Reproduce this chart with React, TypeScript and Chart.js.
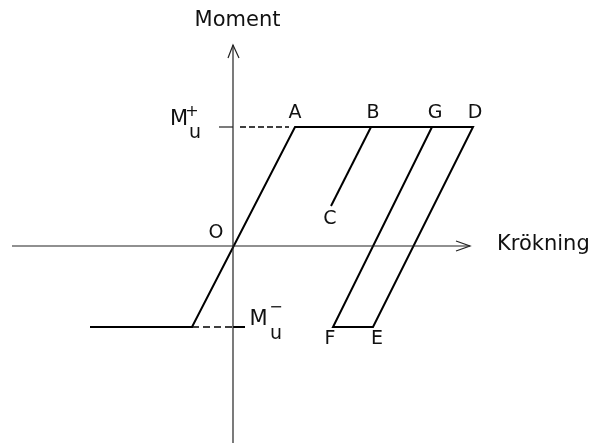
import React, { useEffect, useRef } from "react";
import { Chart, registerables } from "chart.js";

Chart.register(...registerables);

// Abstract units: curvature (x) and moment (y)
const MU_POS = 11.9;
const MU_NEG = -8.1;

// Moment–curvature path: start -> yield (neg) -> A -> D -> E -> F -> G
const mainPathX = [-14.3, -4.1, 6.2, 24.0, 14.0, 10.0, 19.9];
const mainPathY = [MU_NEG, MU_NEG, MU_POS, MU_POS, MU_NEG, MU_NEG, MU_POS];

// Unloading branch B -> C
const branchX = [13.8, 9.8];
const branchY = [MU_POS, 4.0];

// Axes
const xAxisX = [-22.1, 23.7];
const xAxisY = [0, 0];
const yAxisX = [0, 0];
const yAxisY = [-20.5, 20.1];
const xArrowX = [22.3, 23.7, 22.3];
const xArrowY = [0.5, 0, -0.5];
const yArrowX = [-0.5, 0, 0.6];
const yArrowY = [18.8, 20.1, 18.8];

// Reference dashes and ticks for M_u levels
const posDashX = [0.7, 5.6];
const posDashY = [MU_POS, MU_POS];
const posTickX = [-1.4, 0];
const posTickY = [MU_POS, MU_POS];
const negDashX = [-4.1, 0];
const negDashY = [MU_NEG, MU_NEG];
const negTickX = [0, 1.2];
const negTickY = [MU_NEG, MU_NEG];

// Point labels
const pointLabels = ["A", "B", "G", "D", "C", "O", "F", "E"];
const pointLabelX = [6.2, 14.0, 20.2, 24.2, 9.7, -1.7, 9.7, 14.4];
const pointLabelY = [13.3, 13.3, 13.3, 13.3, 2.7, 1.3, -9.3, -9.3];

const axisTitles = ["Moment", "Krökning"];
const axisTitleX = [0.45, 26.4];
const axisTitleY = [22.5, 0.1];

const toPts = (xs: number[], ys: number[]) => xs.map((x, i) => ({ x, y: ys[i] }));

const FONT = "'DejaVu Sans', sans-serif";

const labelPlugin = {
  id: "labels",
  afterDatasetsDraw(chart: any) {
    const { ctx, scales } = chart;
    const xs = scales.x;
    const ys = scales.y;
    ctx.save();
    ctx.fillStyle = "#111";
    ctx.textBaseline = "middle";
    // point letters
    ctx.font = `19px ${FONT}`;
    ctx.textAlign = "center";
    pointLabels.forEach((t, i) => {
      ctx.fillText(t, xs.getPixelForValue(pointLabelX[i]), ys.getPixelForValue(pointLabelY[i]));
    });
    // axis titles
    ctx.font = `21px ${FONT}`;
    ctx.textAlign = "center";
    ctx.fillText(axisTitles[0], xs.getPixelForValue(axisTitleX[0]), ys.getPixelForValue(axisTitleY[0]));
    ctx.textAlign = "left";
    ctx.fillText(axisTitles[1], xs.getPixelForValue(axisTitleX[1]), ys.getPixelForValue(axisTitleY[1]));
    // M_u^+ and M_u^-
    const drawMu = (mx: number, my: number, sign: string, sx: number, sy: number, ux: number, uy: number) => {
      ctx.textAlign = "center";
      ctx.font = `21px ${FONT}`;
      ctx.fillText("M", xs.getPixelForValue(mx), ys.getPixelForValue(my));
      ctx.font = `16px ${FONT}`;
      ctx.fillText(sign, xs.getPixelForValue(sx), ys.getPixelForValue(sy));
      ctx.font = `19px ${FONT}`;
      ctx.fillText("u", xs.getPixelForValue(ux), ys.getPixelForValue(uy));
    };
    drawMu(-5.4, 12.6, "+", -4.1, 13.4, -3.8, 11.3);
    drawMu(2.55, -7.4, "\u2212", 4.3, -6.2, 4.3, -8.8);
    ctx.restore();
  },
};

export default function App() {
  const ref = useRef<HTMLCanvasElement | null>(null);
  useEffect(() => {
    if (!ref.current) return;
    const thin = { borderColor: "#222", borderWidth: 1.2 };
    const thick = { borderColor: "#000", borderWidth: 2 };
    const mk = (xs: number[], ys: number[], style: any) => ({
      data: toPts(xs, ys),
      showLine: true,
      pointRadius: 0,
      fill: false,
      tension: 0,
      ...style,
    });
    const chart = new Chart(ref.current, {
      type: "scatter",
      data: {
        datasets: [
          mk(xAxisX, xAxisY, thin),
          mk(yAxisX, yAxisY, thin),
          mk(xArrowX, xArrowY, thin),
          mk(yArrowX, yArrowY, thin),
          mk(posDashX, posDashY, { borderColor: "#000", borderWidth: 1.4, borderDash: [6, 3] }),
          mk(negDashX, negDashY, { borderColor: "#000", borderWidth: 1.4, borderDash: [7, 4] }),
          mk(posTickX, posTickY, thin),
          mk(negTickX, negTickY, thick),
          mk(mainPathX, mainPathY, thick),
          mk(branchX, branchY, thick),
        ] as any,
      },
      options: {
        responsive: false,
        animation: false,
        layout: { padding: 0 },
        plugins: { legend: { display: false }, tooltip: { enabled: false } },
        scales: {
          x: { type: "linear", min: -23.3, max: 37.5, display: false },
          y: { type: "linear", min: -19.7, max: 24.6, display: false },
        },
      },
      plugins: [labelPlugin],
    });
    return () => chart.destroy();
  }, []);
  return (
    <div style={{ position: "absolute", left: 0, top: 0, width: 608, height: 443, background: "#fff" }}>
      <canvas ref={ref} width={608} height={443} />
    </div>
  );
}
